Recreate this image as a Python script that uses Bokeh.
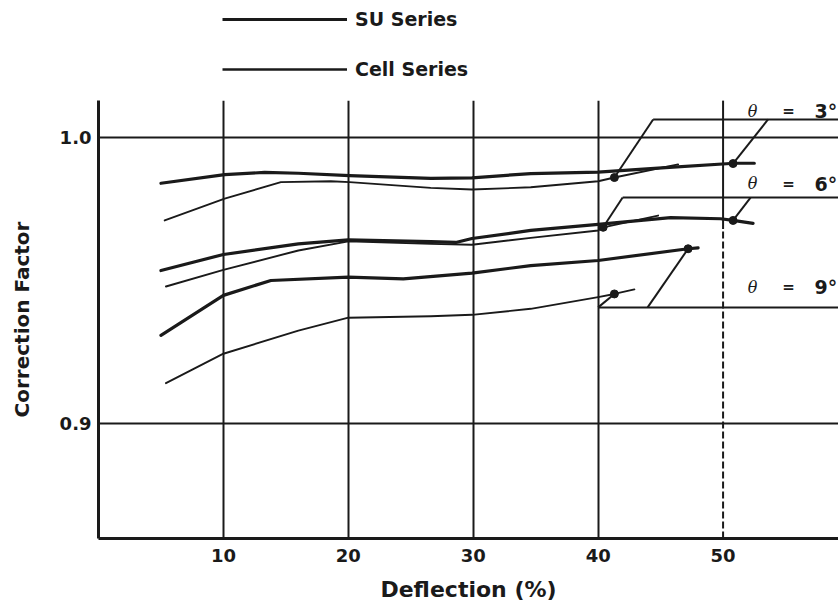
from bokeh.plotting import figure
from bokeh.layouts import column
from bokeh.models import Range1d, FixedTicker, Legend, LegendItem, PrintfTickFormatter
from bokeh.core.properties import value
from bokeh.embed import file_html
from bokeh.resources import INLINE

# ---- data (Deflection %, Correction Factor) ----
su3_x = [5.0, 10.1, 13.3, 16.0, 20.1, 26.6, 29.9, 34.6, 40.0, 45.4, 50.9, 52.5]
su3_y = [0.984, 0.987, 0.9878, 0.9875, 0.9867, 0.9857, 0.9859, 0.9874, 0.9879, 0.9895, 0.991, 0.991]
cell3_x = [5.3, 10.1, 14.6, 18.6, 20.1, 26.6, 29.9, 34.6, 40.0, 41.3, 46.4]
cell3_y = [0.971, 0.9786, 0.9844, 0.9847, 0.9844, 0.9824, 0.9818, 0.9826, 0.9847, 0.986, 0.9906]

su6_x = [5.0, 10.0, 16.0, 20.0, 26.6, 28.6, 29.9, 34.6, 40.0, 45.8, 49.8, 50.8, 52.4]
su6_y = [0.9535, 0.9591, 0.9628, 0.9642, 0.9636, 0.9633, 0.9647, 0.9675, 0.9696, 0.972, 0.9716, 0.971, 0.970]
cell6_x = [5.4, 10.0, 16.0, 20.0, 26.6, 29.9, 34.6, 40.0, 40.4, 44.8]
cell6_y = [0.9479, 0.9537, 0.9605, 0.9637, 0.9628, 0.9625, 0.9649, 0.9675, 0.9686, 0.9727]

su9_x = [5.0, 10.0, 13.8, 20.0, 24.4, 29.9, 34.6, 40.0, 47.2, 48.0]
su9_y = [0.9308, 0.9448, 0.950, 0.9512, 0.9506, 0.9526, 0.9552, 0.957, 0.9611, 0.9614]
cell9_x = [5.4, 10.0, 16.0, 20.0, 26.6, 29.9, 34.6, 40.0, 41.3, 42.9]
cell9_y = [0.9141, 0.9244, 0.9325, 0.937, 0.9375, 0.938, 0.9401, 0.9442, 0.9453, 0.9469]

# marked points where the angle leaders touch the curves
su_dot_x = [50.8, 50.8, 47.2]
su_dot_y = [0.9909, 0.971, 0.9611]
cell_dot_x = [41.3, 40.4, 41.3]
cell_dot_y = [0.986, 0.9686, 0.9453]

angles = ["3°", "6°", "9°"]
x_ticks = [10, 20, 30, 40, 50]
y_ticks = [0.9, 1.0]
series_names = ["SU Series", "Cell Series"]

INK = "#1a1a1a"
BOLD = "DejaVu Sans"
W = 838
NAN = float("nan")

# ---------------- legend strip ----------------
top = figure(width=W, height=100, output_backend="svg", toolbar_location=None,
             x_range=Range1d(0, 1), y_range=Range1d(0, 1), x_axis_type=None, y_axis_type=None,
             min_border=0)
top.outline_line_color = None
top.grid.visible = False
# sample renderers for the key only (no visible data)
leg_su = top.line(x=[NAN], y=[NAN], line_color=INK, line_width=3.2)
leg_cell = top.line(x=[NAN], y=[NAN], line_color=INK, line_width=2.6)
legend = Legend(items=[LegendItem(label=series_names[0], renderers=[leg_su]),
                       LegendItem(label=series_names[1], renderers=[leg_cell])],
                location=(124, 20), orientation="vertical",
                glyph_width=125, glyph_height=20, label_height=20, spacing=28,
                label_standoff=8, padding=0, margin=0,
                border_line_alpha=0, background_fill_alpha=0,
                label_text_font=BOLD, label_text_font_style="bold",
                label_text_font_size="19px", label_text_color=INK)
top.add_layout(legend)

# ---------------- main chart ----------------
p = figure(width=W, height=505, output_backend="svg", toolbar_location=None,
           x_range=Range1d(0, 59.24), y_range=Range1d(0.85979, 1.01294),
           min_border_left=98, min_border_right=0, min_border_top=0, min_border_bottom=67)
p.outline_line_color = None
p.background_fill_color = "white"

p.xaxis.ticker = FixedTicker(ticks=x_ticks)
p.yaxis.ticker = FixedTicker(ticks=y_ticks)
p.yaxis.formatter = PrintfTickFormatter(format="%.1f")
for ax in (p.xaxis[0], p.yaxis[0]):
    ax.axis_line_width = 3
    ax.axis_line_color = INK
    ax.major_tick_in = 0
    ax.major_tick_out = 0
    ax.minor_tick_in = 0
    ax.minor_tick_out = 0
    ax.major_label_text_font = BOLD
    ax.major_label_text_font_style = "bold"
    ax.major_label_text_font_size = "18px"
    ax.major_label_text_color = INK
    ax.axis_label_text_font = BOLD
    ax.axis_label_text_font_style = "bold"
    ax.axis_label_text_color = INK
p.xaxis.axis_label = "Deflection (%)"
p.xaxis.axis_label_text_font_size = "22px"
p.xaxis.major_label_standoff = 10
p.xaxis.axis_label_standoff = 12
p.yaxis.axis_label = "Correction Factor"
p.yaxis.axis_label_text_font_size = "20px"
p.yaxis.major_label_standoff = 7
p.yaxis.axis_label_standoff = 23

# grid
p.xgrid.ticker = FixedTicker(ticks=x_ticks[:-1])
p.ygrid.ticker = FixedTicker(ticks=y_ticks)
for g in (p.xgrid[0], p.ygrid[0]):
    g.grid_line_color = INK
    g.grid_line_width = 2
    g.grid_line_alpha = 1
# the 50 % line: solid at the top, broken lower down
p.segment(x0=[x_ticks[-1]], y0=[0.968], x1=[x_ticks[-1]], y1=[1.013], line_color=INK, line_width=2)
p.segment(x0=[x_ticks[-1]], y0=[0.8598], x1=[x_ticks[-1]], y1=[0.968], line_color=INK,
          line_width=2, line_dash="7 3")

# curves
su = p.multi_line(xs=[su3_x, su6_x, su9_x], ys=[su3_y, su6_y, su9_y],
                  line_color=INK, line_width=3.2, line_join="round", line_cap="round")
cell = p.multi_line(xs=[cell3_x, cell6_x, cell9_x], ys=[cell3_y, cell6_y, cell9_y],
                    line_color=INK, line_width=1.9, line_join="round", line_cap="round")
p.scatter(su_dot_x + cell_dot_x, su_dot_y + cell_dot_y, size=8, color=INK)

# angle brackets (leaders from label rows to the marked points)
row_y = [1.0063, 0.979, 0.9406]
left_x = [44.4, 41.96, 40.0]
right_x = [53.6, 52.2, 43.96]
p.segment(x0=left_x, y0=row_y, x1=[61] * 3, y1=row_y, line_color=INK, line_width=2)
p.segment(x0=left_x, y0=row_y, x1=cell_dot_x, y1=cell_dot_y, line_color=INK, line_width=2)
p.segment(x0=right_x, y0=row_y, x1=su_dot_x, y1=su_dot_y, line_color=INK, line_width=2)

lab_y = [1.0091, 0.9839, 0.9476]
p.text(x=[52.36] * 3, y=lab_y, text=["θ"] * 3, text_font=value("DejaVu Serif"),
       text_font_style="italic", text_font_size="16px", text_align="center",
       text_baseline="middle", text_color=INK)
p.text(x=[55.24] * 3, y=lab_y, text=["="] * 3, text_font=value(BOLD), text_font_style="bold",
       text_font_size="15px", text_align="center", text_baseline="middle", text_color=INK)
p.text(x=[57.32] * 3, y=lab_y, text=angles, text_font=value(BOLD), text_font_style="bold",
       text_font_size="19px", text_align="left", text_baseline="middle", text_color=INK)

layout = column(top, p, spacing=0)
open("out.html", "w").write(file_html(layout, INLINE))
